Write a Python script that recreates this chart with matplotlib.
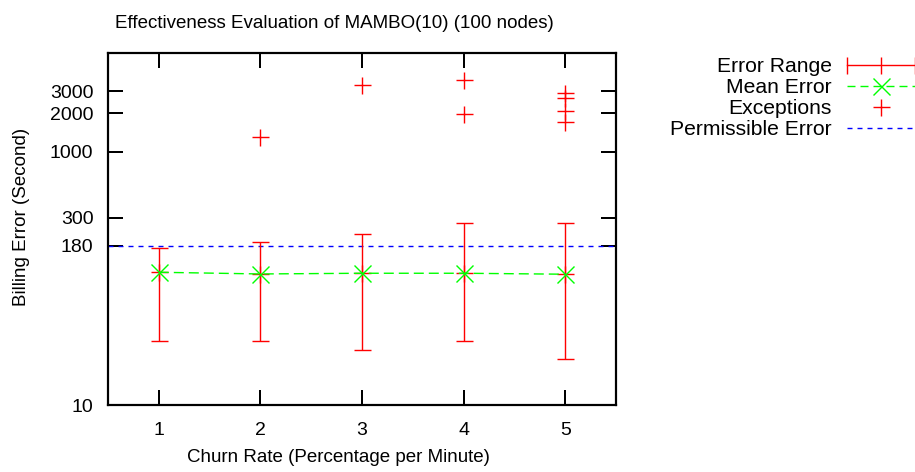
import matplotlib
matplotlib.use("Agg")
import matplotlib.pyplot as plt
from matplotlib.lines import Line2D
import numpy as np

plt.rcParams['font.family'] = ['Liberation Sans', 'DejaVu Sans']
plt.rcParams['lines.scale_dashes'] = False

# ---- data ----
churn = [1, 2, 3, 4, 5]
mean_err = [111.6, 108.2, 109.6, 109.6, 107.7]
err_low = [32.0, 32.0, 27.0, 32.0, 23.1]
err_high = [173.6, 194.6, 224.0, 272.0, 272.0]
exc_x = [2, 3, 4, 4, 5, 5, 5, 5]
exc_y = [1313, 3363, 3684, 1973, 2924, 2669, 2096, 1726]
permissible = 180
yticks = [10, 180, 300, 1000, 2000, 3000]
xticks = [1, 2, 3, 4, 5]

title = "Effectiveness Evaluation of MAMBO(10) (100 nodes)"
xlabel = "Churn Rate (Percentage per Minute)"
ylabel = "Billing Error (Second)"
legend_labels = ["Error Range", "Mean Error", "Exceptions", "Permissible Error"]

W, H = 915, 472
FS = 13.5
TFS = 14
LFS = 15.2
px = 0.72  # points per pixel at dpi=100

fig = plt.figure(figsize=(W / 100, H / 100), dpi=100)
ax = fig.add_axes([108 / W, 1 - 405 / H, (616 - 108) / W, (405 - 53) / H])

RED = '#ff0000'
GREEN = '#00ff00'
BLUE = '#0000ff'

mean = np.array(mean_err)
lo = mean - np.array(err_low)
hi = np.array(err_high) - mean

ax.errorbar(churn, mean_err, yerr=[lo, hi], fmt='none', ecolor=RED,
            elinewidth=1.4 * px, capsize=8.5 * px, capthick=1.4 * px, zorder=3)
ax.plot(churn, mean_err, linestyle='none', marker='+', color=RED,
        markersize=17 * px, markeredgewidth=1.4 * px, zorder=3)
ax.plot(churn, mean_err, color=GREEN, linestyle=(0, (10 * px, 5 * px)), linewidth=1.4 * px,
        marker='x', markersize=17 * px, markeredgewidth=1.4 * px, zorder=4)
ax.plot(exc_x, exc_y, linestyle='none', marker='+', color=RED,
        markersize=17 * px, markeredgewidth=1.4 * px, zorder=3)
ax.axhline(permissible, color=BLUE, linestyle=(0, (5 * px, 5 * px)), linewidth=1.4 * px, zorder=2)

ax.set_yscale('log')
ax.set_xlim(0.5, 5.5)
ax.set_ylim(10, 6000)
ax.set_xticks(xticks)
ax.set_xticklabels([str(v) for v in xticks])
ax.set_yticks(yticks)
ax.set_yticklabels([str(v) for v in yticks])
ax.yaxis.set_minor_locator(matplotlib.ticker.NullLocator())
ax.tick_params(axis='both', which='major', direction='in', length=15 * px, width=2 * px,
               top=True, right=True, labelsize=TFS, colors='black')
ax.tick_params(axis='y', pad=10.5)
ax.tick_params(axis='x', pad=12)
for s in ax.spines.values():
    s.set_linewidth(2.2 * px)

fig.text(334 / W, 1 - 24 / H, title, ha='center', va='center', fontsize=FS)
fig.text(338 / W, 1 - 457 / H, xlabel, ha='center', va='center', fontsize=FS)
fig.text(22 / W, 1 - 217 / H, ylabel, ha='center', va='center', rotation=90, fontsize=FS)

# ---- legend (gnuplot style, text right-aligned) ----
def fx(x):
    return x / W

def fy(y):
    return 1 - y / H

rows = [65, 86, 107, 128]
tx = 832
sx0, sx1 = 847, 915
smid = (sx0 + sx1) / 2
for lab, r in zip(legend_labels, rows):
    fig.text(fx(tx), fy(r + 1.5), lab, ha='right', va='center', fontsize=LFS)

r = rows[0]
fig.add_artist(Line2D([fx(sx0), fx(sx1)], [fy(r), fy(r)], transform=fig.transFigure,
                      color=RED, linewidth=1.4 * px))
fig.add_artist(Line2D([fx(sx0), fx(smid), fx(sx1)], [fy(r)] * 3, transform=fig.transFigure,
                      color=RED, linestyle='none', marker='|', markersize=17 * px,
                      markeredgewidth=1.4 * px))
r = rows[1]
fig.add_artist(Line2D([fx(sx0), fx(sx1)], [fy(r), fy(r)], transform=fig.transFigure,
                      color=GREEN, linewidth=1.4 * px, linestyle=(0, (8 * px, 5 * px))))
fig.add_artist(Line2D([fx(smid)], [fy(r)], transform=fig.transFigure,
                      color=GREEN, linestyle='none', marker='x', markersize=17 * px,
                      markeredgewidth=1.4 * px))
r = rows[2]
fig.add_artist(Line2D([fx(smid)], [fy(r)], transform=fig.transFigure,
                      color=RED, linestyle='none', marker='+', markersize=17 * px,
                      markeredgewidth=1.4 * px))
r = rows[3]
fig.add_artist(Line2D([fx(sx0), fx(sx1)], [fy(r), fy(r)], transform=fig.transFigure,
                      color=BLUE, linewidth=1.4 * px, linestyle=(0, (5 * px, 5 * px))))

fig.savefig('out.png', dpi=100)
